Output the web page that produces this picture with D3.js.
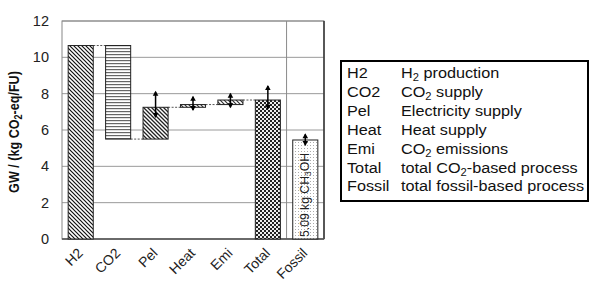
<!DOCTYPE html>
<html><head><meta charset="utf-8">
<script src="https://cdn.jsdelivr.net/npm/d3@7"></script>
<style>body{margin:0;background:#fff;} svg{display:block;font-family:"Liberation Sans",Arial,sans-serif;}</style>
</head><body>
<svg id="c" width="589" height="282"></svg>
<script>
const categories = ["H2","CO2","Pel","Heat","Emi","Total","Fossil"];
const barStart = [0, 10.65, 5.5, 7.25, 7.4, 0, 0];
const barEnd   = [10.65, 5.5, 7.25, 7.4, 7.65, 7.65, 5.45];
const errLow   = [null, null, 6.72, 7.1, 7.25, 7.17, 5.17];
const errHigh  = [null, null, 8.1, 7.83, 8.0, 8.42, 5.76];
const yTicks   = [0, 2, 4, 6, 8, 10, 12];
const patterns = ["diag", "horiz", "diag2", "diag3", "diag3", "check", "dots"];
const legendKeys = ["H2","CO2","Pel","Heat","Emi","Total","Fossil"];
const legendDesc = [["H",{sub:"2"}," production"],["CO",{sub:"2"}," supply"],["Electricity supply"],["Heat supply"],["CO",{sub:"2"}," emissions"],["total CO",{sub:"2"},"-based process"],["total fossil-based process"]];
const fossilNote = ["5.09 kg CH",{sub:"3"},"OH"];

const svg = d3.select("#c");
const L = 62, R = 324, T = 21, B = 239;
const x = d3.scaleBand().domain(categories).range([L, R]).paddingInner(0.33).paddingOuter(0.165);
const y = d3.scaleLinear().domain([0, 12]).range([B, T]);

function richText(sel, parts, subSize) {
  let shifted = false;
  parts.forEach(s => {
    if (typeof s === "string") { sel.append("tspan").attr("dy", shifted ? -3 : 0).text(s); shifted = false; }
    else { sel.append("tspan").attr("font-size", subSize).attr("dy", 3).text(s.sub); shifted = true; }
  });
}

// patterns
const defs = svg.append("defs");
function pat(id, w, h, draw) {
  const p = defs.append("pattern").attr("id", id).attr("patternUnits", "userSpaceOnUse").attr("width", w).attr("height", h);
  p.append("rect").attr("width", w).attr("height", h).attr("fill", "#fff");
  draw(p);
}
pat("diag", 4, 4, p => {
  p.append("path").attr("d", "M0,0 L4,4 M-1,3 L1,5 M3,-1 L5,1").attr("stroke", "#111").attr("stroke-width", 1.2);
});
pat("diag2", 4, 4, p => {
  p.append("path").attr("d", "M0,0 L4,4 M-1,3 L1,5 M3,-1 L5,1").attr("stroke", "#222").attr("stroke-width", 1.3);
});
pat("diag3", 4, 4, p => {
  p.append("path").attr("d", "M0,0 L4,4 M-1,3 L1,5 M3,-1 L5,1").attr("stroke", "#333").attr("stroke-width", 1.2);
});
pat("horiz", 4, 3, p => {
  p.append("rect").attr("y", 0).attr("width", 4).attr("height", 1.2).attr("fill", "#666");
});
pat("check", 4, 4, p => {
  p.append("rect").attr("width", 4).attr("height", 4).attr("fill", "#222");
  p.append("rect").attr("x", 0).attr("y", 0).attr("width", 2).attr("height", 2).attr("fill", "#eee");
  p.append("rect").attr("x", 2).attr("y", 2).attr("width", 2).attr("height", 2).attr("fill", "#eee");
});
pat("dots", 3, 3, p => {
  p.append("rect").attr("x", 1).attr("y", 1).attr("width", 1).attr("height", 1).attr("fill", "#aaa");
});

// grid
svg.append("g").selectAll("line").data(yTicks).join("line")
  .attr("x1", L).attr("x2", R).attr("y1", d => y(d)).attr("y2", d => y(d))
  .attr("stroke", "#9a9a9a").attr("stroke-width", 1);
// separator
const sep = x("Fossil") - x.step() * x.paddingInner() / 2;
svg.append("line").attr("x1", sep).attr("x2", sep).attr("y1", T).attr("y2", B).attr("stroke", "#8a8a8a");

// frame
svg.append("rect").attr("x", L).attr("y", T).attr("width", R - L).attr("height", B - T)
  .attr("fill", "none").attr("stroke", "#888").attr("stroke-width", 1);
svg.append("line").attr("x1", R).attr("x2", R).attr("y1", T).attr("y2", B).attr("stroke", "#333").attr("stroke-width", 1.5);
svg.append("line").attr("x1", L).attr("x2", R).attr("y1", B).attr("y2", B).attr("stroke", "#555").attr("stroke-width", 1.5);

// y axis
const yAxis = d3.axisLeft(y).tickValues(yTicks).tickSize(0).tickPadding(13);
const ga = svg.append("g").attr("transform", `translate(${L},0)`).call(yAxis);
ga.select(".domain").remove();
ga.selectAll("text").attr("font-size", 14.5).attr("fill", "#222").attr("font-family", "Liberation Sans, Arial");

// y label
const yl = svg.append("text").attr("transform", `translate(14,${132}) rotate(-90) scale(1,1.2)`)
  .attr("text-anchor", "middle").attr("dominant-baseline", "central").attr("font-size", 12.6).attr("font-weight", "bold").attr("fill", "#111");
richText(yl, ["GW / (kg CO", {sub:"2"}, "-eq/FU)"], 9);

// connectors
const conn = d3.range(0, 5);
svg.append("g").selectAll("line").data(conn).join("line")
  .attr("x1", i => x(categories[i]) + x.bandwidth())
  .attr("x2", i => x(categories[i + 1]))
  .attr("y1", i => y(barEnd[i])).attr("y2", i => y(barEnd[i]))
  .attr("stroke", "#555").attr("stroke-width", 1).attr("stroke-dasharray", "2,1.5");

// bars
svg.append("g").selectAll("rect").data(categories).join("rect")
  .attr("x", d => x(d)).attr("width", x.bandwidth())
  .attr("y", (d, i) => y(Math.max(barStart[i], barEnd[i])))
  .attr("height", (d, i) => Math.abs(y(barStart[i]) - y(barEnd[i])))
  .attr("fill", (d, i) => `url(#${patterns[i]})`)
  .attr("stroke", "#222").attr("stroke-width", 1);

// fossil note
const fx = x("Fossil") + x.bandwidth() / 2;
const nt = svg.append("text").attr("transform", `translate(${fx},${B - 2}) rotate(-90)`)
  .attr("dominant-baseline", "central").attr("font-size", 12.2).attr("fill", "#222");
richText(nt, fossilNote, 8.5);

// error bars
const eIdx = categories.map((d, i) => i).filter(i => errLow[i] !== null);
const cx = i => x(categories[i]) + x.bandwidth() / 2;
const eg = svg.append("g").selectAll("g").data(eIdx).join("g");
eg.append("line")
  .attr("x1", cx).attr("x2", cx)
  .attr("y1", i => y(errLow[i])).attr("y2", i => y(errHigh[i]))
  .attr("stroke", "#000").attr("stroke-width", 1.5);
eg.append("path").attr("d", i => { const c = cx(i), yy = y(errHigh[i]); return `M${c},${yy - 1} L${c - 2.8},${yy + 4} L${c + 2.8},${yy + 4}Z`; }).attr("fill", "#000");
eg.append("path").attr("d", i => { const c = cx(i), yy = y(errLow[i]); return `M${c},${yy + 1} L${c - 2.8},${yy - 4} L${c + 2.8},${yy - 4}Z`; }).attr("fill", "#000");

// x labels
svg.append("g").selectAll("text").data(categories).join("text")
  .attr("transform", d => `translate(${x(d) + x.bandwidth() / 2 + 3},${B + 15}) rotate(-45)`)
  .attr("text-anchor", "end").attr("font-size", 14).attr("fill", "#222")
  .text(d => d);

// legend
svg.append("rect").attr("x", 341).attr("y", 61).attr("width", 247).attr("height", 140)
  .attr("fill", "#fff").attr("stroke", "#000").attr("stroke-width", 2);
const lg = svg.append("g").selectAll("g").data(legendKeys).join("g")
  .attr("transform", (d, i) => `translate(0,${78 + i * 18.9})`);
lg.append("text").attr("transform", "translate(347,0) scale(1.12,1)").attr("font-size", 14.5).attr("fill", "#111").text(d => d);
lg.each(function(d, i) {
  const t = d3.select(this).append("text").attr("transform", "translate(401,0) scale(1.12,1)").attr("font-size", 14.5).attr("fill", "#111");
  richText(t, legendDesc[i], 10);
});
</script>
</body></html>
